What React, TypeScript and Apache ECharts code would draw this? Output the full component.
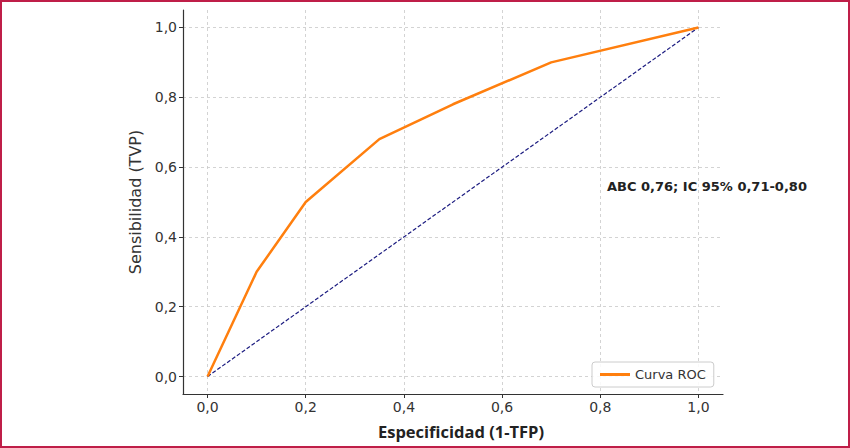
import React, { useEffect, useRef } from 'react';
import * as echarts from 'echarts';

// Puntos de la curva ROC (1-TFP, TVP)
const fprValues = [0, 0.1, 0.2, 0.35, 0.5, 0.7, 1.0];
const tprValues = [0, 0.3, 0.5, 0.68, 0.78, 0.9, 1.0];
const diagonal = [0, 1];
const tickValues = [0, 0.2, 0.4, 0.6, 0.8, 1.0];
const seriesName = 'Curva ROC';
const annotation = 'ABC 0,76; IC 95% 0,71-0,80';

const fmt = (v: number) => v.toFixed(1).replace('.', ',');

const App: React.FC = () => {
    const chartRef = useRef<HTMLDivElement>(null);

    useEffect(() => {
        document.body.style.margin = '0';
        if (!chartRef.current) return;
        const chart = echarts.init(chartRef.current, undefined, { renderer: 'svg' });

        const tickFont = { fontFamily: 'DejaVu Sans', fontSize: 14, color: '#333' };
        const gridLine = { show: true, lineStyle: { color: '#c8c8c8', width: 0.8, type: [3, 3] as number[] } };

        const option: echarts.EChartsOption = {
            animation: false,
            grid: { left: 183, right: 127, top: 10, bottom: 54 },
            xAxis: {
                type: 'value',
                min: -0.05,
                max: 1.05,
                name: 'Especificidad (1-TFP)',
                nameLocation: 'middle',
                nameGap: 29,
                nameTextStyle: {
                    fontFamily: 'Open Sans',
                    fontWeight: 'bold',
                    fontSize: 16.5,
                    color: '#222',
                    padding: [0, 0, 0, 16],
                },
                axisLine: { onZero: false, lineStyle: { color: '#333', width: 1.2 } },
                axisTick: { show: true, length: 4, customValues: tickValues, lineStyle: { color: '#333' } },
                axisLabel: { ...tickFont, margin: 6, customValues: tickValues, formatter: (v: number) => fmt(v) },
                splitLine: gridLine,
            },
            yAxis: {
                type: 'value',
                min: -0.05,
                max: 1.05,
                name: 'Sensibilidad (TVP)',
                nameLocation: 'middle',
                nameGap: 38,
                nameTextStyle: { fontFamily: 'DejaVu Sans', fontSize: 16, color: '#333' },
                axisLine: { show: true, onZero: false, lineStyle: { color: '#333', width: 1.2 } },
                axisTick: { show: true, length: 4, customValues: tickValues, lineStyle: { color: '#333' } },
                axisLabel: { ...tickFont, margin: 6, customValues: tickValues, formatter: (v: number) => fmt(v) },
                splitLine: gridLine,
            },
            legend: {
                data: [{ name: seriesName, icon: 'rect' }],
                left: 592,
                top: 362,
                itemWidth: 30,
                itemHeight: 3,
                padding: [6, 8],
                borderColor: '#ccc',
                borderWidth: 1,
                borderRadius: 3,
                backgroundColor: 'rgba(255,255,255,0.85)',
                textStyle: { fontFamily: 'DejaVu Sans', fontSize: 13, color: '#333' },
            },
            graphic: [
                {
                    type: 'text',
                    left: 607,
                    top: 180,
                    style: { text: annotation, fontFamily: 'DejaVu Sans', fontWeight: 'bold', fontSize: 13, fill: '#222' },
                },
            ],
            series: [
                {
                    name: 'Diagonal',
                    type: 'line',
                    data: diagonal.map((v) => [v, v]),
                    showSymbol: false,
                    lineStyle: { color: '#1c1c80', width: 1.2, type: [4, 2] },
                    z: 1,
                },
                {
                    name: seriesName,
                    type: 'line',
                    data: fprValues.map((x, i) => [x, tprValues[i]]),
                    showSymbol: false,
                    itemStyle: { color: '#ff7f0e' },
                    lineStyle: { color: '#ff7f0e', width: 2.5 },
                    z: 2,
                },
            ],
        };
        chart.setOption(option);

        return () => {
            chart.dispose();
        };
    }, []);

    return (
        <div style={{ position: 'relative', width: 850, height: 448 }}>
            <div ref={chartRef} style={{ position: 'absolute', left: 0, top: 0, width: 850, height: 448 }} />
            <div
                style={{
                    position: 'absolute',
                    left: 0,
                    top: 0,
                    width: 850,
                    height: 448,
                    boxSizing: 'border-box',
                    border: '2px solid #bf1e48',
                    pointerEvents: 'none',
                }}
            />
        </div>
    );
};

export default App;
